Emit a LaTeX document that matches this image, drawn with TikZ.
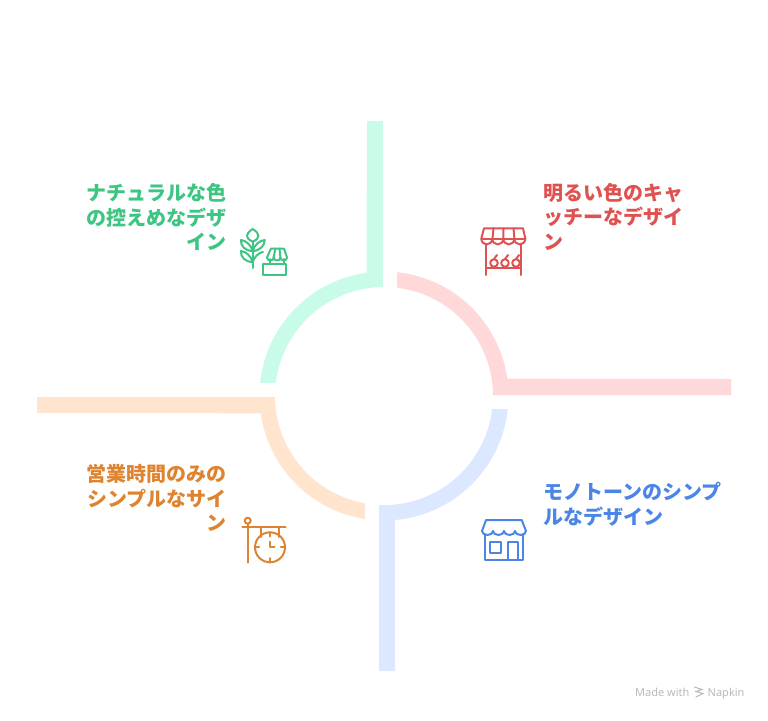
\documentclass[tikz,border=0pt]{standalone}
\usepackage{fontspec}
\newfontfamily\jp{Noto Sans CJK JP}
\newfontfamily\latinf{Noto Sans}
\definecolor{gbar}{HTML}{C8FCE8}
\definecolor{rbar}{HTML}{FFD9D9}
\definecolor{bbar}{HTML}{DCE8FF}
\definecolor{obar}{HTML}{FFE4CE}
\definecolor{gink}{HTML}{3CC583}
\definecolor{rink}{HTML}{E05252}
\definecolor{bink}{HTML}{4C85E6}
\definecolor{oink}{HTML}{DE8431}
\definecolor{mark}{HTML}{B8B8B8}
\tikzset{
  label/.style={inner sep=0pt,font=\jp\bfseries\fontsize{20}{24.5}\selectfont},
  icon/.style={line width=2pt,line join=round,line cap=round,fill=none},
  credit/.style={inner sep=0pt,text=mark,font=\latinf\fontsize{11}{12}\selectfont}
}
\begin{document}
\begin{tikzpicture}[x=1pt,y=-1pt]
\useasboundingbox (0,0) rectangle (768,720);
% rings
\begin{scope}[shift={(384,396)}]
\fill[rbar] (-84:124.5) arc[start angle=-84,end angle=-8,radius=124.5] -- (347,-17) -- (347,-1) -- (109,-1) arc[start angle=-0.5,end angle=-83,radius=109] -- cycle;
\fill[gbar] (-90.5:109) arc[start angle=-90.5,end angle=-173,radius=109] -- (-124,-13) arc[start angle=-174,end angle=-98,radius=124.5] -- (-17,-275) -- (-1,-275) -- cycle;
\fill[bbar] (6:124.5) arc[start angle=6,end angle=85,radius=124.5] -- (11,275) -- (-5,275) -- (-5,109) arc[start angle=92.6,end angle=6.9,radius=109] -- cycle;
\fill[obar] (179.5:109) arc[start angle=179.5,end angle=100,radius=109] -- (-19,123) arc[start angle=98.8,end angle=172,radius=124.5] -- (-347,17) -- (-347,1) -- cycle;
\end{scope}
% labels
\node[label,text=gink,anchor=east,align=right] (tg) at (227,217) {ナチュラルな色\\の控えめなデザ\\イン};
\node[label,text=rink,anchor=west,align=left] (tr) at (543.5,216.5) {明るい色のキャ\\ッチーなデザイ\\ン};
\node[label,text=bink,anchor=west,align=left] (tb) at (543,504) {モノトーンのシンプ\\ルなデザイン};
\node[label,text=oink,anchor=east,align=right] (to) at (227,498) {営業時間のみの\\シンプルなサイ\\ン};
% green icon
\begin{scope}[icon,draw=gink]
\draw (252.7,268) -- (252.7,241.7);
\draw (252.7,241.7) .. controls (245,238) and (245,234) .. (252.7,229) .. controls (260.4,234) and (260.4,238) .. (252.7,241.7);
\draw (252.7,251) .. controls (251,245) and (246,240.5) .. (241,240) .. controls (240.5,246) and (245,251) .. (252.7,251);
\draw (252.7,251) .. controls (254.4,245) and (259.4,240.5) .. (264.7,240) .. controls (265,245) and (260,251) .. (252.7,251);
\draw (252.7,262) .. controls (251,256) and (246,251.5) .. (241,251) .. controls (240.5,257) and (245,262) .. (252.7,262);
\draw (252.7,262) .. controls (254.4,257) and (258,253) .. (263,252);
\draw (263,263.5) rectangle (286,275);
\draw (269.5,263) -- (269.5,259) (284,263) -- (284,259);
\draw (271,248.5) -- (284,248.5) -- (287,257.5) arc[start angle=0,end angle=180,x radius=3.3,y radius=3] arc[start angle=0,end angle=180,x radius=3.3,y radius=3] arc[start angle=0,end angle=180,x radius=3.4,y radius=3] -- cycle;
\draw (275.5,248.5) -- (273.5,257.5) (279.5,248.5) -- (280.4,257.5);
\end{scope}
% red icon
\begin{scope}[icon,draw=rink]
\draw (484,228.3) -- (523,228.3) -- (525.3,238.5) arc[start angle=0,end angle=180,x radius=5.5,y radius=6] arc[start angle=0,end angle=180,x radius=5.5,y radius=6] arc[start angle=0,end angle=180,x radius=5.5,y radius=6] arc[start angle=0,end angle=180,x radius=5.5,y radius=6] -- cycle;
\draw (481.5,238.5) -- (525.3,238.5);
\draw (493.5,228.3) -- (492.5,238.5) (503.5,228.3) -- (503.4,238.5) (513.5,228.3) -- (514.4,238.5);
\draw (486,244) -- (486,275) (520.7,244) -- (520.7,275) (486,267.7) -- (520.7,267.7);
\foreach \x in {494,505,516}{\draw (\x,263) circle[radius=3.8]; \draw (\x,259) -- (\x+3,255);}
\end{scope}
% blue icon
\begin{scope}[icon,draw=bink]
\draw (486,520) -- (521.7,520) -- (526,531) arc[start angle=0,end angle=180,x radius=5.5,y radius=4] arc[start angle=0,end angle=180,x radius=5.5,y radius=4] arc[start angle=0,end angle=180,x radius=5.5,y radius=4] arc[start angle=0,end angle=180,x radius=5.5,y radius=4] -- cycle;
\draw (485,535) -- (485,560) -- (523.3,560) -- (523.3,535);
\draw (489.5,541.7) rectangle (501,553.3);
\draw (508.3,560) -- (508.3,541.7) -- (517.7,541.7) -- (517.7,560);
\end{scope}
% orange icon
\begin{scope}[icon,draw=oink]
\draw (247.7,520.7) circle[radius=3];
\draw (247.7,524) -- (247.7,562.7);
\draw (242.3,527.3) -- (285.7,527.3);
\draw (261,527.3) -- (261,537) (279.3,527.3) -- (279.3,537);
\draw (270,547.3) circle[radius=15];
\draw (270,532.3) -- (270,536.5) (270,558) -- (270,562.3) (255,547.3) -- (259.2,547.3) (280.8,547.3) -- (285,547.3);
\draw (270,541.5) -- (270,547.3) -- (274.5,547.3);
\end{scope}
% credit
\node[credit,anchor=base west] (made) at (635,696) {Made with};
\node[credit,anchor=base west] (nap) at (707.5,696) {Napkin};
\begin{scope}[draw=mark,line width=1pt,line cap=round]
\draw (694.5,687) -- (702,689.5) -- (696,691.5) -- (703,693.5) -- (696,697);
\end{scope}
\end{tikzpicture}
\end{document}
